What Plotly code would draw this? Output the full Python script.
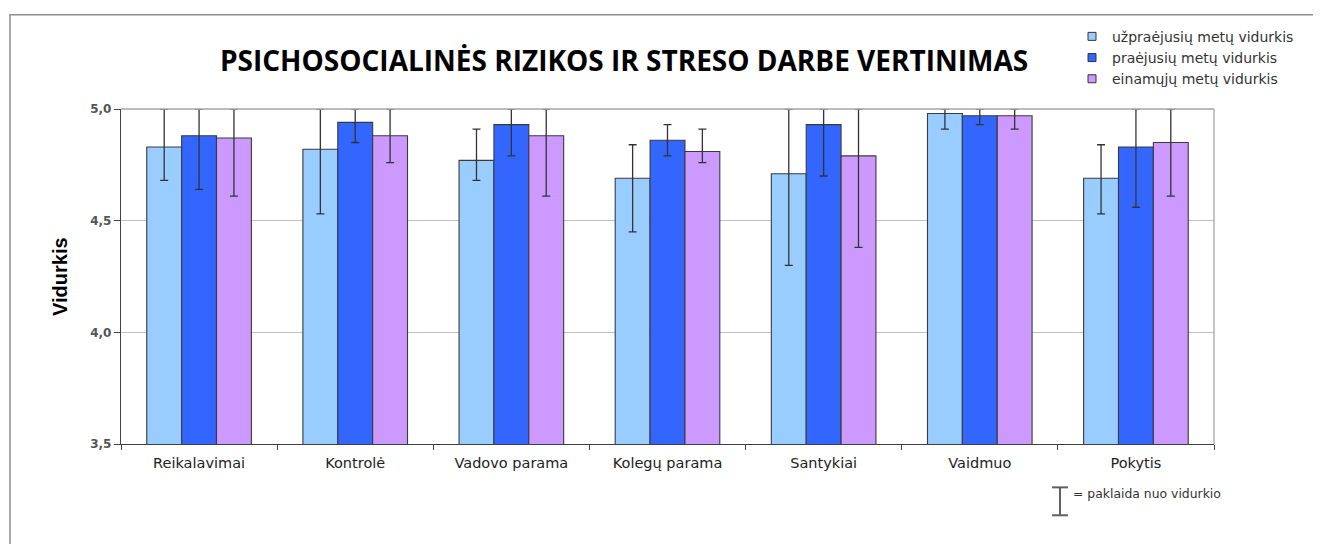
import plotly.graph_objects as go

categories = ["Reikalavimai", "Kontrolė", "Vadovo parama", "Kolegų parama", "Santykiai", "Vaidmuo", "Pokytis"]
series_names = ["užpraėjusių metų vidurkis", "praėjusių metų vidurkis", "einamųjų metų vidurkis"]

# bar values (means)
uzpraejusiu = [4.83, 4.82, 4.77, 4.69, 4.71, 4.98, 4.69]
praejusiu = [4.88, 4.94, 4.93, 4.86, 4.93, 4.97, 4.83]
einamuju = [4.87, 4.88, 4.88, 4.81, 4.79, 4.97, 4.85]

# error bar ends (low / high) (high clipped at axis max 5,0)
uzpraejusiu_low = [4.68, 4.53, 4.68, 4.45, 4.30, 4.91, 4.53]
uzpraejusiu_high = [5.00, 5.00, 4.91, 4.84, 5.00, 5.00, 4.84]
praejusiu_low = [4.64, 4.85, 4.79, 4.79, 4.70, 4.93, 4.56]
praejusiu_high = [5.00, 5.00, 5.00, 4.93, 5.00, 5.00, 5.00]
einamuju_low = [4.61, 4.76, 4.61, 4.76, 4.38, 4.91, 4.61]
einamuju_high = [5.00, 5.00, 5.00, 4.91, 5.00, 5.00, 5.00]

y_ticks = [3.5, 4.0, 4.5, 5.0]

colors = ["#99CCFF", "#3366FF", "#CC99FF"]

# page renders the figure with an 8px offset, so the figure is 8px smaller
OFF = 8
W, H = 1321 - OFF, 544 - OFF
ML, MR, MT, MB = 121 - OFF, 107, 108.5 - OFF, 99.5
PW = W - ML - MR
PH = H - MB - MT


def px_x(x):
    # reference-picture x pixel -> paper coordinate
    return (x - OFF - ML) / PW


def px_y(y):
    # reference-picture y pixel -> paper coordinate
    return (H - MB - (y - OFF)) / PH


fig = go.Figure()
for name, vals, lo, hi, col in [
    (series_names[0], uzpraejusiu, uzpraejusiu_low, uzpraejusiu_high, colors[0]),
    (series_names[1], praejusiu, praejusiu_low, praejusiu_high, colors[1]),
    (series_names[2], einamuju, einamuju_low, einamuju_high, colors[2]),
]:
    fig.add_trace(go.Bar(
        x=categories, y=vals, name=name, showlegend=False,
        marker=dict(color=col, line=dict(color="#3a3a3a", width=1.1)),
        error_y=dict(
            type="data", symmetric=False,
            array=[h - v for h, v in zip(hi, vals)],
            arrayminus=[v - l for l, v in zip(lo, vals)],
            color="#333333", thickness=1.3, width=4,
        ),
    ))

# legend entries with small square swatches
for name, col in zip(series_names, colors):
    fig.add_trace(go.Scatter(
        x=[None], y=[None], mode="markers", name=name,
        marker=dict(symbol="square", size=8, color=col, line=dict(color="#333333", width=1)),
    ))

shapes = [
    # plot area top and right border
    dict(type="line", xref="paper", yref="paper", x0=0, x1=1, y0=1, y1=1,
         line=dict(color="#a6a6a6", width=1.3)),
    dict(type="line", xref="paper", yref="paper", x0=1, x1=1, y0=0, y1=1,
         line=dict(color="#a6a6a6", width=1.3)),
    # outer chart frame
    dict(type="rect", xref="paper", yref="paper",
         x0=px_x(10), x1=px_x(1400), y0=px_y(600), y1=px_y(14),
         line=dict(color="#8c8c8c", width=1.5), layer="below"),
    # error bar legend icon
    dict(type="line", xref="paper", yref="paper", x0=px_x(1060), x1=px_x(1060),
         y0=px_y(488), y1=px_y(516), line=dict(color="#606060", width=2)),
    dict(type="line", xref="paper", yref="paper", x0=px_x(1052), x1=px_x(1068),
         y0=px_y(488), y1=px_y(488), line=dict(color="#606060", width=2)),
    dict(type="line", xref="paper", yref="paper", x0=px_x(1052), x1=px_x(1068),
         y0=px_y(516), y1=px_y(516), line=dict(color="#606060", width=2)),
]

annotations = [
    dict(text="PSICHOSOCIALINĖS RIZIKOS IR STRESO DARBE VERTINIMAS",
         xref="paper", yref="paper", x=px_x(624), y=px_y(59),
         xanchor="center", yanchor="middle", showarrow=False,
         font=dict(family="Open Sans", size=28, color="#000000", weight="bold")),
    dict(text="<b>Vidurkis</b>", xref="paper", yref="paper",
         x=px_x(60), y=px_y(277), textangle=-90, showarrow=False,
         xanchor="center", yanchor="middle",
         font=dict(family="Liberation Sans", size=20, color="#000000")),
    dict(text="= paklaida nuo vidurkio", xref="paper", yref="paper",
         x=px_x(1071), y=px_y(494), xanchor="left", yanchor="middle",
         showarrow=False,
         font=dict(family="DejaVu Sans", size=12.4, color="#333333")),
]

fig.update_layout(
    width=W, height=H,
    margin=dict(l=ML, r=MR, t=MT, b=MB),
    paper_bgcolor="white", plot_bgcolor="white",
    separators=", ",
    barmode="group", bargap=0.33, bargroupgap=0,
    shapes=shapes, annotations=annotations,
    legend=dict(
        x=px_x(1072), y=px_y(20), xanchor="left", yanchor="top",
        font=dict(family="DejaVu Sans", size=14, color="#333333"),
        bgcolor="rgba(0,0,0,0)", itemwidth=30, tracegroupgap=0,
    ),
    xaxis=dict(
        type="category", showline=True, linecolor="#404040", linewidth=1.3,
        ticks="outside", tickson="boundaries", ticklen=5, tickcolor="#404040",
        tickfont=dict(family="DejaVu Sans", size=14.5, color="#222222"),
        ticklabelstandoff=5,
        showgrid=False,
    ),
    yaxis=dict(
        range=[3.5, 5.0], tickvals=y_ticks, tickformat=".1f",
        showline=True, linecolor="#404040", linewidth=1.3,
        ticks="outside", ticklen=6, tickcolor="#404040",
        showgrid=True, gridcolor="#c0c0c0", gridwidth=1.3,
        tickfont=dict(family="DejaVu Sans", size=12, color="#555555", weight="bold"),
        zeroline=False,
    ),
)

fig.write_html("out.html")
